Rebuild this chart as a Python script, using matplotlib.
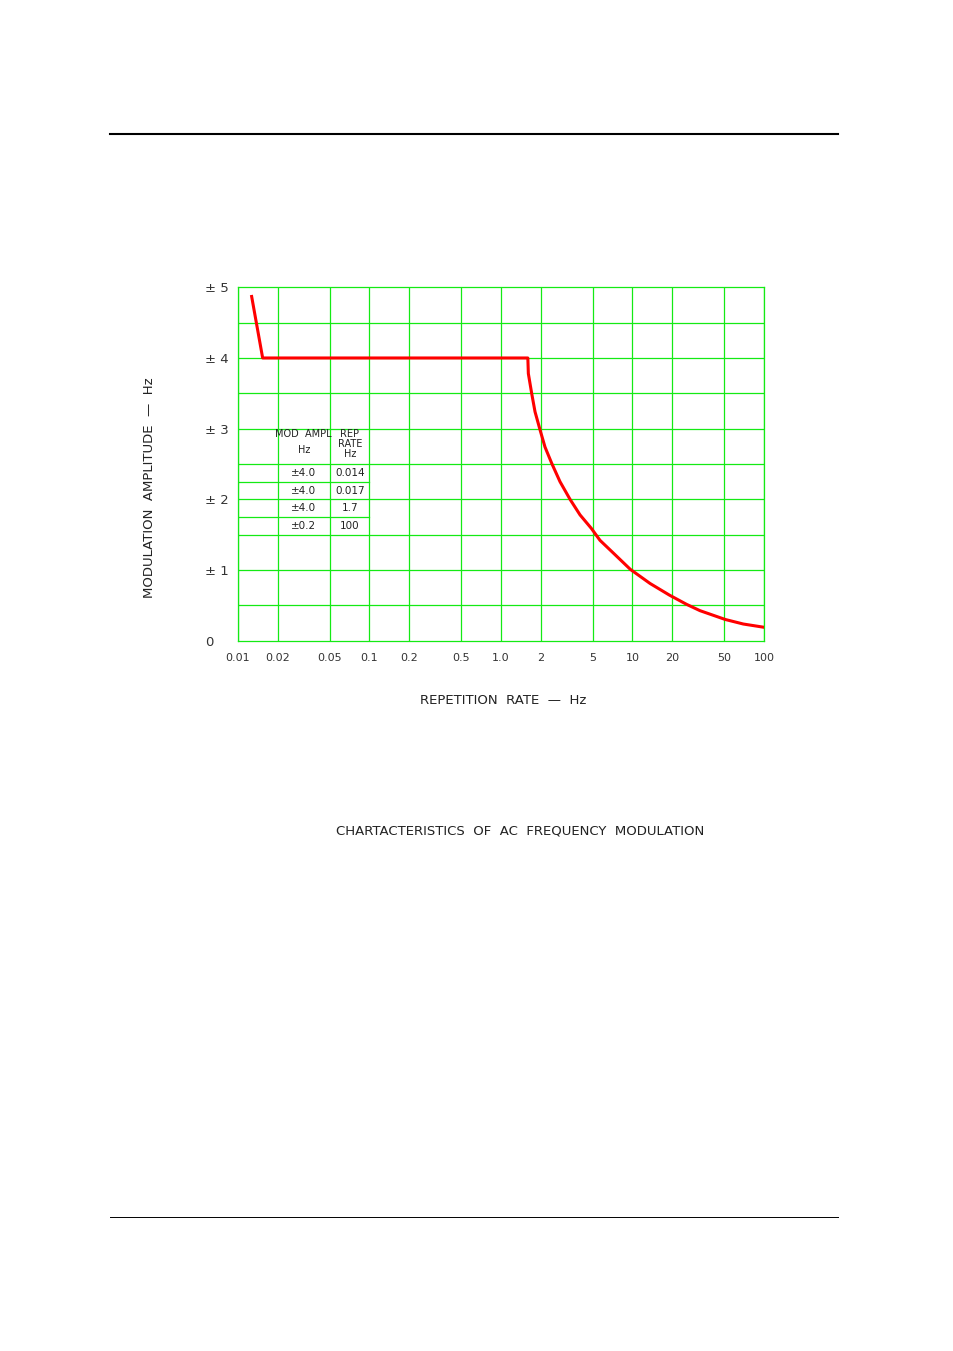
import matplotlib
matplotlib.use('Agg')
import matplotlib.pyplot as plt
from matplotlib.lines import Line2D

# Grid / tick values
x_ticks = [0.01, 0.02, 0.05, 0.1, 0.2, 0.5, 1.0, 2, 5, 10, 20, 50, 100]
x_tick_labels = ['0.01', '0.02', '0.05', '0.1', '0.2', '0.5', '1.0', '2', '5', '10', '20', '50', '100']
y_ticks = [0, 1, 2, 3, 4, 5]
y_tick_labels = ['0', '\u00b1 1', '\u00b1 2', '\u00b1 3', '\u00b1 4', '\u00b1 5']
y_grid = [0.5, 1, 1.5, 2, 2.5, 3, 3.5, 4, 4.5]

# Curve (rep rate Hz, modulation amplitude Hz)
rep_rate = [0.0127, 0.0154, 1.60, 1.614, 1.711, 1.814, 1.99, 2.161, 2.43, 2.81, 3.35, 3.99,
            4.86, 5.66, 7.15, 9.62, 13.59, 19.05, 25.8, 32.6, 50.8, 69.6, 100]
mod_ampl = [4.87, 4.0, 4.0, 3.78, 3.50, 3.24, 2.97, 2.74, 2.51, 2.25, 2.0, 1.78,
            1.59, 1.42, 1.24, 1.01, 0.81, 0.646, 0.514, 0.425, 0.30, 0.236, 0.19]

# Table inside the chart
table_ampl = ['\u00b14.0', '\u00b14.0', '\u00b14.0', '\u00b10.2']
table_rate = ['0.014', '0.017', '1.7', '100']

green = '#14ea14'
txt = '#222222'

fig = plt.figure(figsize=(9.54, 13.51), dpi=100)
ax = fig.add_axes([238 / 954, 1 - 640.7 / 1351, 526 / 954, 353.4 / 1351])
ax.set_xscale('log')
ax.set_xlim(0.01, 100)
ax.set_ylim(0, 5)

for v in x_ticks:
    ax.axvline(v, color=green, lw=0.9, zorder=1)
for v in y_grid:
    ax.axhline(v, color=green, lw=0.9, zorder=1)
for s in ax.spines.values():
    s.set_color(green)
    s.set_linewidth(0.9)

ax.set_xticks(x_ticks)
ax.set_xticklabels(x_tick_labels)
ax.xaxis.set_minor_locator(matplotlib.ticker.NullLocator())
ax.set_yticks(y_ticks)
ax.set_yticklabels(y_tick_labels)
ax.tick_params(axis='x', length=0, pad=9, labelsize=8, labelcolor='#333333')
ax.tick_params(axis='y', length=0, pad=24, labelsize=9.5, labelcolor='#333333')
for lab in ax.get_yticklabels():
    lab.set_horizontalalignment('left')

ax.plot(rep_rate, mod_ampl, color='#ff0000', lw=2.2, zorder=3, solid_joinstyle='round')

# table: extra separators and text
ax.plot([0.01, 0.1], [2.25, 2.25], color=green, lw=0.9, zorder=1)
ax.plot([0.01, 0.1], [1.75, 1.75], color=green, lw=0.9, zorder=1)
col1 = (0.02 * 0.05) ** 0.5
col2 = (0.05 * 0.1) ** 0.5
ax.text(col1, 2.92, 'MOD  AMPL', ha='center', va='center', fontsize=7, color=txt)
ax.text(col1, 2.7, 'Hz', ha='center', va='center', fontsize=7, color=txt)
ax.text(col2, 2.92, 'REP', ha='center', va='center', fontsize=7, color=txt)
ax.text(col2, 2.78, 'RATE', ha='center', va='center', fontsize=7, color=txt)
ax.text(col2, 2.64, 'Hz', ha='center', va='center', fontsize=7, color=txt)
row_y = [2.375, 2.125, 1.875, 1.625]
for yy, a, r in zip(row_y, table_ampl, table_rate):
    ax.text(col1, yy, a, ha='center', va='center', fontsize=7.5, color=txt)
    ax.text(col2, yy, r, ha='center', va='center', fontsize=7.5, color=txt)

fig.text(503 / 954, 1 - 701 / 1351, 'REPETITION  RATE  \u2014  Hz', ha='center', va='center',
         fontsize=9.5, color=txt)
fig.text(150 / 954, 1 - 488 / 1351, 'MODULATION  AMPLITUDE  \u2014  Hz', ha='center', va='center',
         rotation=90, fontsize=9.5, color=txt)
fig.text(520 / 954, 1 - 831 / 1351, 'CHARTACTERISTICS  OF  AC  FREQUENCY  MODULATION',
         ha='center', va='center', fontsize=9.5, color=txt)

# page rules
fig.add_artist(Line2D([110 / 954, 838 / 954], [1 - 133.7 / 1351] * 2, color='black', lw=1.5))
fig.add_artist(Line2D([110 / 954, 838 / 954], [1 - 1217 / 1351] * 2, color='black', lw=0.7))

fig.savefig('out.png', dpi=100)
